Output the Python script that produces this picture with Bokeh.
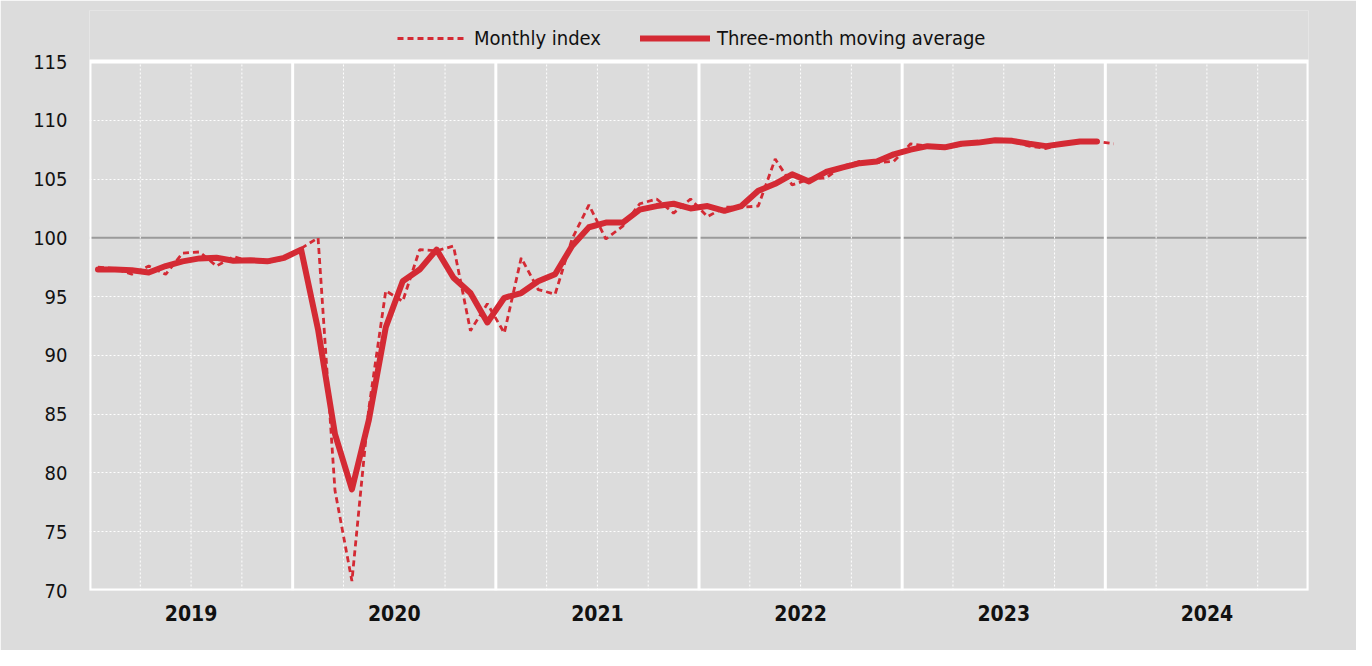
from bokeh.plotting import figure
from bokeh.models import Range1d, FixedTicker, Span, Legend, LegendItem
from bokeh.embed import file_html
from bokeh.resources import INLINE

# Monthly index, Jan 2019 .. Jan 2024
monthly = [
    97.5, 97.4, 96.9, 97.6, 96.9, 98.7, 98.8, 97.6, 98.4, 98.0, 97.9, 98.2,
    99.1, 100.0, 78.5, 70.8, 85.5, 95.5, 94.6, 99.0, 98.9, 99.3, 92.1, 94.4,
    91.9, 98.3, 95.6, 95.2, 99.9, 102.8, 99.9, 101.0, 102.9, 103.3, 102.1, 103.3,
    101.8, 102.6, 102.6, 102.7, 106.7, 104.5, 105.0, 105.1, 106.1, 106.5, 106.4, 106.5,
    108.0, 107.8, 107.6, 107.9, 108.1, 108.3, 108.2, 107.8, 107.6, 108.0, 108.2, 108.2,
    108.0,
]
# Three-month moving average (centred), Jan 2019 .. Dec 2023
moving_avg = [
    97.3, 97.3, 97.25, 97.05, 97.6, 98.0, 98.25, 98.3, 98.05, 98.1, 98.0, 98.3,
    99.0, 92.2, 83.3, 78.6, 84.5, 92.4, 96.3, 97.3, 99.0, 96.6, 95.3, 92.8,
    94.9, 95.3, 96.3, 96.9, 99.3, 100.9, 101.3, 101.3, 102.4, 102.7, 102.9, 102.5,
    102.7, 102.3, 102.7, 104.0, 104.6, 105.4, 104.8, 105.6, 106.0, 106.35, 106.5, 107.1,
    107.5, 107.8, 107.7, 108.0, 108.1, 108.3, 108.25, 108.0, 107.8, 108.0, 108.2, 108.2,
]
years = ["2019", "2020", "2021", "2022", "2023", "2024"]
y_ticks = [70, 75, 80, 85, 90, 95, 100, 105, 110, 115]
baseline = 100

RED = "#d42a34"
BG = "#dcdcdc"
FONT = "'Liberation Sans Narrow', 'Arial Narrow', 'DejaVu Sans Condensed', 'Liberation Sans', sans-serif"

n_months = 12 * len(years)
y_lo, y_hi = y_ticks[0], y_ticks[-1]
x_monthly = [i + 0.5 for i in range(len(monthly))]
x_ma = [i + 0.5 for i in range(len(moving_avg))]

# frame extends above the 115 line to hold the legend
FRAME_TOP_PAD = 580 / ((590 - 61) / (y_hi - y_lo)) - (y_hi - y_lo)

p = figure(width=1356, height=650, x_range=Range1d(0, n_months),
           y_range=Range1d(y_lo, y_hi + FRAME_TOP_PAD),
           output_backend="svg", toolbar_location=None,
           min_border_left=89, min_border_right=48,
           min_border_top=10, min_border_bottom=60)
p.background_fill_color = BG
p.border_fill_color = BG
p.outline_line_color = None
p.outline_line_alpha = 0

# horizontal dotted grid
p.xgrid.visible = False
p.ygrid.ticker = FixedTicker(ticks=y_ticks[1:-1])
p.ygrid.grid_line_color = "white"
p.ygrid.grid_line_width = 1
p.ygrid.grid_line_dash = "2 2"

# quarter (dotted) and year (solid) separators, limited to the plot box
quarters = [m for m in range(3, n_months, 3) if m % 12]
p.segment(x0=quarters, y0=[y_lo] * len(quarters), x1=quarters, y1=[y_hi] * len(quarters),
          line_color="white", line_width=1, line_dash="2 2")
year_edges = [12 * k for k in range(1, len(years))]
p.segment(x0=year_edges, y0=[y_lo] * len(year_edges), x1=year_edges, y1=[y_hi] * len(year_edges),
          line_color="white", line_width=3)
p.add_layout(Span(location=baseline, dimension="width", line_color="#9a9a9a",
                  line_width=2, level="underlay"))
# white box round the plot area (70..115)
p.quad(left=[0], right=[n_months], bottom=[y_lo], top=[y_hi],
       fill_color=None, fill_alpha=0, line_color="white", line_width=4)

# axes
p.yaxis.ticker = FixedTicker(ticks=y_ticks)
p.xaxis.ticker = FixedTicker(ticks=[12 * k + 6 for k in range(len(years))])
p.xaxis.major_label_overrides = {12 * k + 6: y for k, y in enumerate(years)}
for ax in (p.xaxis, p.yaxis):
    ax.axis_line_color = None
    ax.major_tick_line_color = None
    ax.minor_tick_line_color = None
    ax.major_tick_out = 0
    ax.major_tick_in = 0
    ax.major_label_text_font = FONT
    ax.major_label_text_color = "#111111"
p.yaxis.major_label_text_font_size = "20px"
p.yaxis.major_label_standoff = 22
p.xaxis.major_label_text_font_size = "21px"
p.xaxis.major_label_text_font_style = "bold"
p.xaxis.major_label_standoff = 14

r1 = p.line(x_monthly, monthly, line_color=RED, line_width=2.8, line_dash="6 4")
r2 = p.line(x_ma, moving_avg, line_color=RED, line_width=6,
            line_cap="round", line_join="round")

legend = Legend(items=[LegendItem(label="Monthly index", renderers=[r1]),
                       LegendItem(label="Three-month moving average", renderers=[r2])],
                orientation="horizontal", location=(308, 540),
                glyph_width=70, glyph_height=24, label_standoff=7, spacing=39,
                padding=0, margin=0, border_line_color=None,
                background_fill_alpha=0, label_text_font=FONT,
                label_text_font_size="20px", label_text_color="#111111")
p.add_layout(legend)

open("out.html", "w").write(file_html(p, INLINE))
